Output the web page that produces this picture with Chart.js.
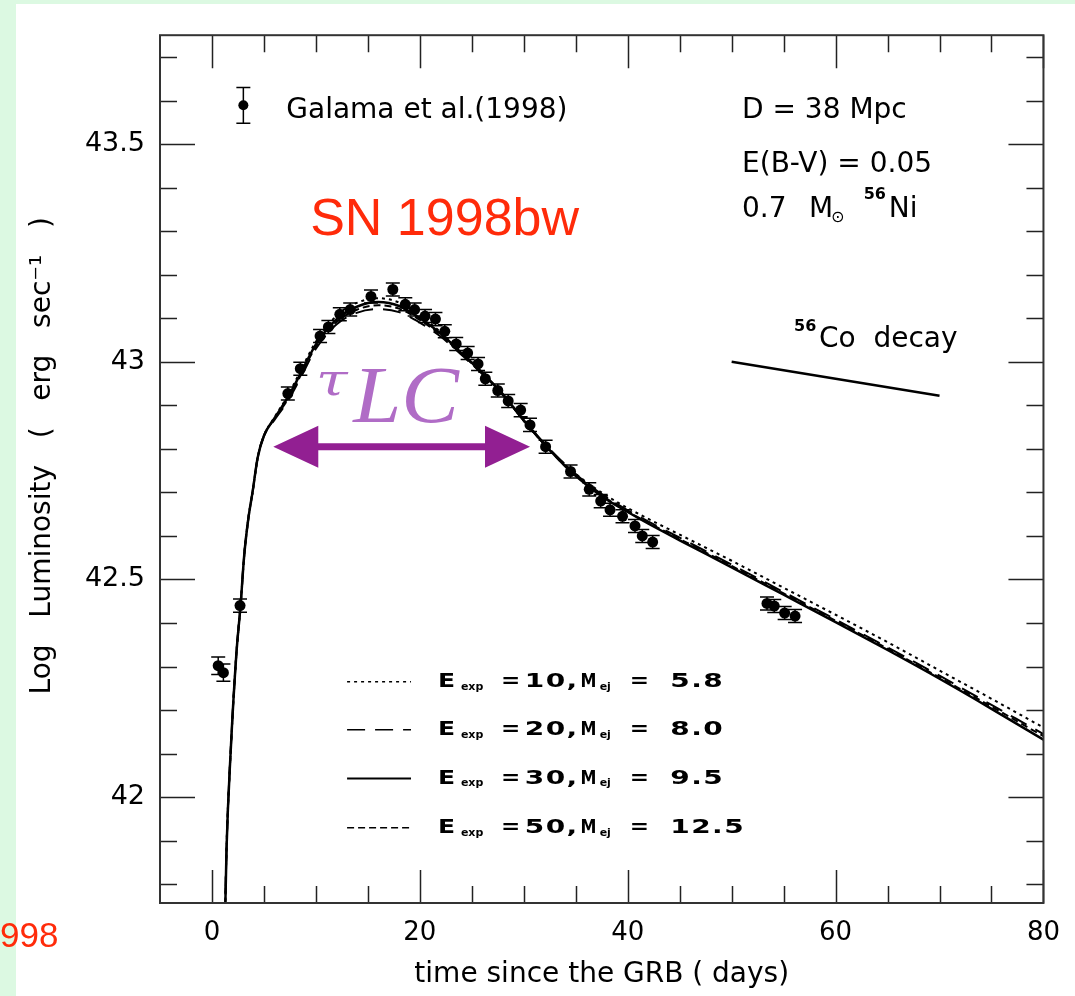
<!DOCTYPE html>
<html>
<head>
<meta charset="utf-8">
<script src="https://cdn.jsdelivr.net/npm/chart.js@4.4.0/dist/chart.umd.min.js"></script>
<style>
  html, body { margin: 0; padding: 0; }
  body { width: 1075px; height: 996px; background: #dcf9e2; position: relative; overflow: hidden; }
  #panel { position: absolute; left: 16px; top: 4px; width: 1059px; height: 992px; background: #fff; }
  #cut { position: absolute; left: 0; top: 915px; line-height: 40px; font-size: 35px;
         font-family: "Liberation Sans", Arial, sans-serif; color: #ff2b0a; }
</style>
</head>
<body>
<div id="panel"><canvas id="lightCurve"></canvas></div>
<div id="cut">998</div>
<script>
// SN 1998bw bolometric light curve vs. models

// observed points, Galama et al. (1998)
const obsDays = [0.6, 1.1, 2.7, 7.3, 8.5, 10.4, 11.2, 12.3, 13.3, 15.3,
                 17.4, 18.6, 19.5, 20.5, 21.5, 22.4, 23.5, 24.6, 25.6, 26.3,
                 27.5, 28.5, 29.7, 30.6, 32.1, 34.5, 36.3, 37.4, 38.3, 39.5,
                 40.7, 41.4, 42.4, 53.4, 54.1, 55.1, 56.1];
const obsLogL = [42.302, 42.286, 42.44, 42.927, 42.984, 43.059, 43.08, 43.109, 43.12, 43.15,
                 43.166, 43.132, 43.12, 43.105, 43.098, 43.07, 43.041, 43.02, 42.995, 42.961,
                 42.934, 42.91, 42.889, 42.855, 42.805, 42.748, 42.707, 42.68, 42.66, 42.645,
                 42.623, 42.6, 42.586, 42.445, 42.439, 42.423, 42.416];
const obsErr = [0.02, 0.02, 0.015, 0.015, 0.015, 0.015, 0.015, 0.015, 0.015, 0.015,
                0.015, 0.015, 0.015, 0.015, 0.015, 0.015, 0.015, 0.015, 0.015, 0.015,
                0.015, 0.015, 0.015, 0.015, 0.015, 0.015, 0.015, 0.015, 0.015, 0.015,
                0.015, 0.015, 0.015, 0.015, 0.015, 0.015, 0.015];

// model light curves
const modelDays = [1.2, 1.4, 1.8, 2.35, 2.75, 3.1, 3.5, 3.9, 4.4, 5.0,
                   6.0, 7.3, 8.5, 10, 12, 14, 16, 18, 20, 22,
                   24, 26, 28, 30, 32, 34, 36, 38, 40, 42,
                   45, 50, 55, 60, 65, 70, 75, 80];
const modelE10 = [41.65, 41.88, 42.105, 42.33, 42.44, 42.555, 42.64, 42.70, 42.78, 42.83,
                  42.872, 42.922, 42.978, 43.046, 43.106, 43.136, 43.146, 43.136, 43.106, 43.068,
                  43.022, 42.975, 42.924, 42.864, 42.81, 42.763, 42.724, 42.692, 42.664, 42.639,
                  42.603, 42.543, 42.481, 42.419, 42.356, 42.291, 42.226, 42.160];
const modelE20 = [41.65, 41.88, 42.105, 42.33, 42.44, 42.555, 42.64, 42.70, 42.78, 42.83,
                  42.866, 42.91, 42.962, 43.03, 43.086, 43.113, 43.121, 43.114, 43.09, 43.058,
                  43.016, 42.972, 42.923, 42.866, 42.812, 42.764, 42.722, 42.688, 42.659, 42.633,
                  42.596, 42.534, 42.471, 42.408, 42.344, 42.279, 42.212, 42.145];
const modelE30 = [41.65, 41.88, 42.105, 42.33, 42.44, 42.555, 42.64, 42.70, 42.78, 42.83,
                  42.87, 42.918, 42.972, 43.04, 43.098, 43.127, 43.137, 43.128, 43.10, 43.065,
                  43.02, 42.975, 42.925, 42.865, 42.81, 42.76, 42.718, 42.683, 42.655, 42.628,
                  42.59, 42.528, 42.465, 42.402, 42.338, 42.272, 42.203, 42.132];
const modelE50 = [41.65, 41.88, 42.105, 42.33, 42.44, 42.555, 42.64, 42.70, 42.78, 42.83,
                  42.868, 42.914, 42.967, 43.035, 43.092, 43.12, 43.13, 43.122, 43.096, 43.062,
                  43.018, 42.973, 42.924, 42.865, 42.81, 42.76, 42.719, 42.685, 42.656, 42.63,
                  42.593, 42.531, 42.468, 42.405, 42.341, 42.275, 42.208, 42.140];
const modelEnergies = [10, 20, 30, 50];
const modelMasses = ['5.8', '8.0', '9.5', '12.5'];

// 56Co decay slope
const coDays = [50, 70];
const coLogL = [43.0, 42.922];

const xTickValues = [0, 20, 40, 60, 80];
const yTickValues = [42, 42.5, 43, 43.5];

// line styles for the four models (dotted, long dash, solid, short dash)
const curveStyles = [
    { dash: [3, 4], width: 2 },
    { dash: [18, 10], width: 2 },
    { dash: [], width: 2.5 },
    { dash: [7, 4], width: 2 }
];

const FONT = '"DejaVu Sans", "Liberation Sans", sans-serif';
const PURPLE = '#921f92';

function toXY(xs, ys) {
    return xs.map((v, i) => ({ x: v, y: ys[i] }));
}

const modelSeries = [modelE10, modelE20, modelE30, modelE50];
const curveSets = modelSeries.map((ys, i) => ({
    label: 'E exp = ' + modelEnergies[i] + ', M ej = ' + modelMasses[i],
    data: toXY(modelDays, ys),
    showLine: true,
    borderColor: '#000',
    borderWidth: curveStyles[i].width,
    borderDash: curveStyles[i].dash,
    pointRadius: 0,
    cubicInterpolationMode: 'monotone',
    fill: false
}));

const coSet = {
    label: '56Co decay',
    data: toXY(coDays, coLogL),
    showLine: true,
    borderColor: '#000',
    borderWidth: 2.5,
    pointRadius: 0
};

const obsSet = {
    label: 'Galama et al.(1998)',
    data: toXY(obsDays, obsLogL),
    showLine: false,
    pointRadius: 5.5,
    pointBackgroundColor: '#000',
    pointBorderWidth: 0
};
const OBS_INDEX = curveSets.length + 1;

// inward ticks on all four sides + frame
const framePlugin = {
    id: 'frame',
    afterDatasetsDraw(chart) {
        const { ctx, chartArea: a, scales: { x, y } } = chart;
        ctx.save();
        ctx.strokeStyle = '#222';
        ctx.lineWidth = 1.5;
        ctx.beginPath();
        for (let v = 0; v <= 80; v += 5) {
            const px = Math.round(x.getPixelForValue(v)) + 0.5;
            const len = v % 20 === 0 ? 33 : 17;
            ctx.moveTo(px, a.bottom); ctx.lineTo(px, a.bottom - len);
            ctx.moveTo(px, a.top); ctx.lineTo(px, a.top + len);
        }
        for (let i = 418; i <= 437; i++) {
            const py = Math.round(y.getPixelForValue(i / 10)) + 0.5;
            const len = i % 5 === 0 ? 35 : 17;
            ctx.moveTo(a.left, py); ctx.lineTo(a.left + len, py);
            ctx.moveTo(a.right, py); ctx.lineTo(a.right - len, py);
        }
        ctx.stroke();
        ctx.strokeStyle = '#333';
        ctx.lineWidth = 2;
        ctx.strokeRect(a.left, a.top, a.right - a.left, a.bottom - a.top);
        ctx.restore();
    }
};

// vertical error bars on the observed points
const errorBars = {
    id: 'errorBars',
    afterDatasetsDraw(chart) {
        const { ctx, chartArea: a, scales: { y } } = chart;
        const meta = chart.getDatasetMeta(OBS_INDEX);
        ctx.save();
        ctx.beginPath();
        ctx.rect(a.left, a.top, a.right - a.left, a.bottom - a.top);
        ctx.clip();
        ctx.strokeStyle = '#000';
        ctx.lineWidth = 1.5;
        ctx.beginPath();
        meta.data.forEach((pt, i) => {
            const top = y.getPixelForValue(obsLogL[i] + obsErr[i]);
            const bot = y.getPixelForValue(obsLogL[i] - obsErr[i]);
            ctx.moveTo(pt.x, top); ctx.lineTo(pt.x, bot);
            ctx.moveTo(pt.x - 7, top); ctx.lineTo(pt.x + 7, top);
            ctx.moveTo(pt.x - 7, bot); ctx.lineTo(pt.x + 7, bot);
        });
        ctx.stroke();
        ctx.restore();
    }
};

// texts, legend key, tau_LC arrow
const annotations = {
    id: 'annotations',
    afterDraw(chart) {
        const { ctx, scales: { x, y } } = chart;
        const px = v => x.getPixelForValue(v);
        const py = v => y.getPixelForValue(v);
        // sx stretches the glyphs horizontally (the original uses a wide bitmap font)
        const text = (s, xv, yv, font, opt) => {
            const o = opt || {};
            ctx.save();
            ctx.font = font;
            ctx.fillStyle = o.color || '#000';
            ctx.letterSpacing = o.spacing || '0px';
            ctx.textAlign = 'left';
            ctx.textBaseline = 'middle';
            ctx.translate(px(xv), py(yv) + (o.dy || 0));
            ctx.scale(o.sx || 1, 1);
            ctx.fillText(s, 0, 0);
            ctx.restore();
        };
        ctx.save();

        // Galama key symbol
        const gx = px(3.02), gy = py(43.589);
        const gt = py(43.63), gb = py(43.548);
        ctx.strokeStyle = '#000';
        ctx.fillStyle = '#000';
        ctx.lineWidth = 1.5;
        ctx.beginPath();
        ctx.moveTo(gx, gt); ctx.lineTo(gx, gb);
        ctx.moveTo(gx - 7, gt); ctx.lineTo(gx + 7, gt);
        ctx.moveTo(gx - 7, gb); ctx.lineTo(gx + 7, gb);
        ctx.stroke();
        ctx.beginPath();
        ctx.arc(gx, gy, 5, 0, Math.PI * 2);
        ctx.fill();

        const f28 = '28px ' + FONT;
        text('Galama et al.(1998)', 7.15, 43.576, f28);
        text('D = 38 Mpc', 51.0, 43.576, f28);
        text('E(B-V) = 0.05', 51.0, 43.452, f28);
        text('0.7', 51.0, 43.35, f28);
        text('M', 57.44, 43.35, f28);
        text('⊙', 59.55, 43.331, '16px ' + FONT);
        text('56', 62.7, 43.383, 'bold 16px ' + FONT);
        text('Ni', 65.11, 43.35, f28);

        text('SN 1998bw', 9.45, 43.325, '52px "Liberation Sans", Arial, sans-serif', { color: '#ff2b0a' });

        text('56', 56.0, 43.08, 'bold 16px ' + FONT);
        text('Co  decay', 58.4, 43.05, f28);

        // tau_LC label and double arrow
        text('τ', 10.0, 42.95, 'italic 44px "DejaVu Serif", serif', { color: '#b06cc6', sx: 1.3 });
        text('LC', 13.6, 42.909, 'italic 80px "Liberation Serif", serif', { color: '#b06cc6', sx: 1.08 });
        const ay = py(42.805), ax1 = px(5.9), ax2 = px(30.6);
        ctx.fillStyle = PURPLE;
        ctx.strokeStyle = PURPLE;
        ctx.lineWidth = 7;
        ctx.beginPath();
        ctx.moveTo(ax1 + 40, ay); ctx.lineTo(ax2 - 40, ay);
        ctx.stroke();
        ctx.beginPath();
        ctx.moveTo(ax1, ay); ctx.lineTo(ax1 + 45, ay - 21); ctx.lineTo(ax1 + 45, ay + 21); ctx.closePath();
        ctx.moveTo(ax2, ay); ctx.lineTo(ax2 - 45, ay - 21); ctx.lineTo(ax2 - 45, ay + 21); ctx.closePath();
        ctx.fill();

        // model legend
        const rowY = [42.265, 42.155, 42.043, 41.93];
        const fb = 'bold 20px ' + FONT, fs = 'bold 11px ' + FONT;
        const wide = { sx: 1.4, spacing: '1px' };
        rowY.forEach((ry, i) => {
            const yy = py(ry);
            ctx.strokeStyle = '#000';
            ctx.lineWidth = curveStyles[i].width - 0.5;
            ctx.setLineDash(curveStyles[i].dash);
            ctx.beginPath();
            ctx.moveTo(px(13.0), yy); ctx.lineTo(px(19.15), yy);
            ctx.stroke();
            ctx.setLineDash([]);
            text('E', 21.74, ry, fb, { sx: 1.25 });
            text('exp', 23.95, ry, fs, { dy: 5 });
            text('=', 27.8, ry, fb, { sx: 1.15 });
            text(modelEnergies[i] + ',', 30.1, ry, fb, wide);
            text('M', 35.46, ry, fb, { sx: 0.8 });
            text('ej', 37.3, ry, fs, { dy: 5 });
            text('=', 40.2, ry, fb, { sx: 1.15 });
            text(modelMasses[i], 44.1, ry, fb, wide);
        });

        ctx.restore();
    }
};

function createLightCurveChart() {
    const ctx = document.getElementById('lightCurve');
    new Chart(ctx, {
        type: 'scatter',
        data: { datasets: [...curveSets, coSet, obsSet] },
        options: {
            responsive: true,
            maintainAspectRatio: false,
            animation: false,
            layout: { padding: { top: 22, right: 28, left: 0, bottom: 0 } },
            plugins: {
                legend: { display: false },
                tooltip: { enabled: false }
            },
            scales: {
                x: {
                    type: 'linear',
                    min: -5,
                    max: 80,
                    grid: { display: false, drawTicks: false },
                    border: { display: false },
                    afterFit(s) { s.height = 93; },
                    afterBuildTicks(s) { s.ticks = xTickValues.map(v => ({ value: v })); },
                    ticks: {
                        font: { family: FONT, size: 26 },
                        color: '#000',
                        padding: 15,
                        maxRotation: 0,
                        autoSkip: false
                    },
                    title: {
                        display: true,
                        text: 'time since the GRB ( days)',
                        font: { family: FONT, size: 28 },
                        color: '#000',
                        padding: { top: 0, bottom: 4 }
                    }
                },
                y: {
                    type: 'linear',
                    min: 41.757,
                    max: 43.75,
                    grid: { display: false, drawTicks: false },
                    border: { display: false },
                    afterFit(s) { s.width = 144; },
                    afterBuildTicks(s) { s.ticks = yTickValues.map(v => ({ value: v })); },
                    ticks: {
                        font: { family: FONT, size: 27 },
                        color: '#000',
                        padding: 15,
                        autoSkip: false,
                        callback: v => String(v)
                    },
                    title: {
                        display: true,
                        text: '   Log   Luminosity   (   erg   sec⁻¹   )',
                        font: { family: FONT, size: 28 },
                        color: '#000',
                        padding: { top: 10, bottom: 0 }
                    }
                }
            }
        },
        plugins: [framePlugin, errorBars, annotations]
    });
}

createLightCurveChart();
</script>
</body>
</html>
